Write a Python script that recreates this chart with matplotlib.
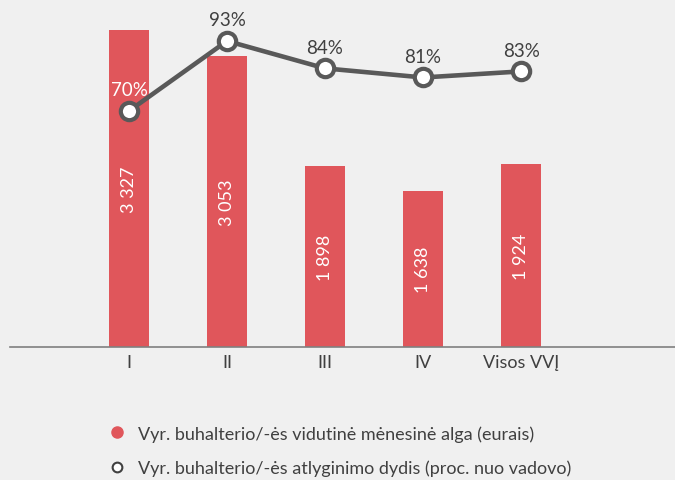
import matplotlib
matplotlib.use("Agg")
import matplotlib.pyplot as plt
from matplotlib.lines import Line2D

plt.rcParams['font.family'] = ['Lato', 'DejaVu Sans']

categories = ["I", "II", "III", "IV", "Visos VVĮ"]
salary = [3327, 3053, 1898, 1638, 1924]
salary_labels = ["3 327", "3 053", "1 898", "1 638", "1 924"]
percent = [70, 93, 84, 81, 83]
legend_labels = ["Vyr. buhalterio/-ės vidutinė mėnesinė alga (eurais)",
                 "Vyr. buhalterio/-ės atlyginimo dydis (proc. nuo vadovo)"]

bg = "#F0F0F0"
red = "#E0565B"
gray = "#595959"
txt = "#404040"

fig = plt.figure(figsize=(6.75, 4.81), dpi=100, facecolor=bg)
ax = fig.add_axes([10/675, (481-348)/481, 665/675, 348/481])
ax.set_facecolor(bg)
x = list(range(len(categories)))
ax.bar(x, salary, width=0.41, color=red, zorder=2)
ax.set_xlim(-1.214, 5.57)
ax.set_ylim(0, 3652)
for s in ["top", "right", "left"]:
    ax.spines[s].set_visible(False)
ax.spines["bottom"].set_color("#808080")
ax.spines["bottom"].set_linewidth(1.2)
ax.set_yticks([])
ax.set_xticks(x)
ax.set_xticklabels(categories, fontsize=13, color=txt)
ax.tick_params(axis='x', length=0, pad=5)

for xi, v, lab in zip(x, salary, salary_labels):
    ax.text(xi, v / 2, lab, rotation=90, ha='center', va='center',
            color='white', fontsize=13, zorder=3)

ax2 = ax.twinx()
ax2.set_ylim(-7.6, 106.8)
ax2.axis('off')
ax2.plot(x, percent, color=gray, lw=3.3, marker='o', ms=12.5,
         markerfacecolor='white', markeredgecolor=gray, markeredgewidth=3, zorder=4)
for i, (xi, p) in enumerate(zip(x, percent)):
    ax2.annotate(f"{p}%", (xi, p), xytext=(0, 9), textcoords='offset points',
                 ha='center', va='bottom', fontsize=13.5,
                 color='white' if i == 0 else txt)

handles = [Line2D([], [], ls='none', marker='o', ms=8, color=red),
           Line2D([], [], ls='none', marker='o', ms=7, markerfacecolor='white',
                  markeredgecolor=txt, markeredgewidth=1.5)]
fig.legend(handles, legend_labels, loc='upper left', bbox_to_anchor=(90/675, 1 - 410/481),
           frameon=False, fontsize=13, labelcolor=txt, handletextpad=0.55,
           labelspacing=1.0, handlelength=1.2)

fig.savefig("out.png", dpi=100, facecolor=bg)
